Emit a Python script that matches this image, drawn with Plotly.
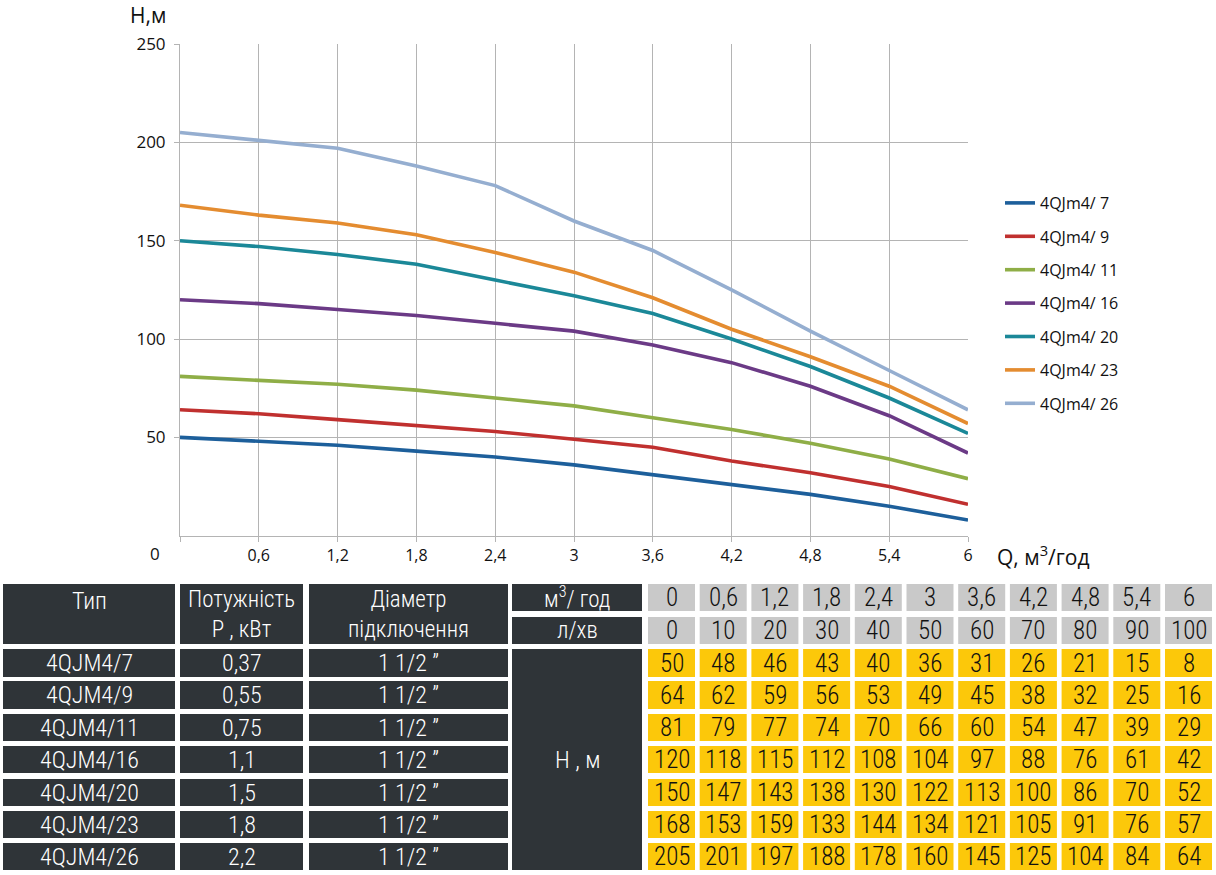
import plotly.graph_objects as go

W, H = 1216, 875

# ---------------- data ----------------
q_m3 = [0, 0.6, 1.2, 1.8, 2.4, 3, 3.6, 4.2, 4.8, 5.4, 6]
q_labels = ["0", "0,6", "1,2", "1,8", "2,4", "3", "3,6", "4,2", "4,8", "5,4", "6"]
q_lmin = [0, 10, 20, 30, 40, 50, 60, 70, 80, 90, 100]

types = ["4QJM4/7", "4QJM4/9", "4QJM4/11", "4QJM4/16", "4QJM4/20", "4QJM4/23", "4QJM4/26"]
legend_names = ["4QJm4/ 7", "4QJm4/ 9", "4QJm4/ 11", "4QJm4/ 16", "4QJm4/ 20", "4QJm4/ 23", "4QJm4/ 26"]
powers = ["0,37", "0,55", "0,75", "1,1", "1,5", "1,8", "2,2"]
diameters = ["1 1/2 \u201d"] * 7

h7 = [50, 48, 46, 43, 40, 36, 31, 26, 21, 15, 8]
h9 = [64, 62, 59, 56, 53, 49, 45, 38, 32, 25, 16]
h11 = [81, 79, 77, 74, 70, 66, 60, 54, 47, 39, 29]
h16 = [120, 118, 115, 112, 108, 104, 97, 88, 76, 61, 42]
h20 = [150, 147, 143, 138, 130, 122, 113, 100, 86, 70, 52]
h23_table = [168, 153, 159, 133, 144, 134, 121, 105, 91, 76, 57]   # as printed in table
h23_curve = [168, 163, 159, 153, 144, 134, 121, 105, 91, 76, 57]   # as drawn on chart
h26 = [205, 201, 197, 188, 178, 160, 145, 125, 104, 84, 64]

table_rows = [h7, h9, h11, h16, h20, h23_table, h26]
curve_rows = [h7, h9, h11, h16, h20, h23_curve, h26]
colors = ["#1d5f9b", "#c0302f", "#8fae47", "#6b3a86", "#1b8898", "#e48c30", "#95aed0"]

y_ticks = [50, 100, 150, 200, 250]

# ---------------- helpers ----------------
def px(x):
    return x / W

def py(y):
    return 1 - y / H

CHART_FONT = "'Open Sans', sans-serif"
TABLE_FONT = "'Roboto Condensed', 'Liberation Sans Narrow', 'DejaVu Sans Condensed', sans-serif"

def narrow(t):
    return '<span style="font-stretch:condensed">' + t + '</span>'

fig = go.Figure()
for name, vals, col in zip(legend_names, curve_rows, colors):
    fig.add_trace(go.Scatter(
        x=q_m3, y=vals, mode="lines", name=name, legendgroup=name,
        line=dict(color=col, width=3.6), hoverinfo="x+y+name",
    ))

shapes = []
annotations = []

DARK = "#2f3438"
GRAY = "#c9c9c9"
YELLOW = "#fcc80a"

def cell(x0, x1, y0, y1, fill, text, color, size=24):
    shapes.append(dict(type="rect", xref="paper", yref="paper",
                       x0=px(x0), x1=px(x1), y0=py(y1), y1=py(y0),
                       fillcolor=fill, line=dict(width=0), layer="above"))
    if text is not None:
        annotations.append(dict(xref="paper", yref="paper",
                                x=px((x0 + x1) / 2), y=py((y0 + y1) / 2),
                                text=narrow(text), showarrow=False,
                                font=dict(family=TABLE_FONT, size=size, color=color, weight=300),
                                xanchor="center", yanchor="middle"))

# column x-ranges
c_type = (3, 175)
c_pow = (180, 303)
c_dia = (309, 508)
c_unit = (512, 642)
grid_x0 = 648
pitch = 51.7
gw = 47

hdr_top, hdr_bot = 584, 644
sub1 = (584, 611)
sub2 = (617, 644)
rows_y = [(649, 677), (681, 709), (714, 741), (746, 773), (779, 806), (811, 838), (843, 870)]

# headers
cell(*c_type, hdr_top, hdr_bot, DARK, None, "white")
annotations.append(dict(xref="paper", yref="paper", x=px(sum(c_type) / 2), y=py(601),
                        text=narrow("Тип"), showarrow=False, xanchor="center", yanchor="middle",
                        font=dict(family=TABLE_FONT, size=24, color="white", weight=300)))
cell(*c_pow, hdr_top, hdr_bot, DARK, "Потужність<br>Р , кВт", "white", 23)
cell(*c_dia, hdr_top, hdr_bot, DARK, "Діаметр<br>підключення", "white", 23)
cell(*c_unit, *sub1, DARK, "м<sup>3</sup>/ год", "white", 23)
cell(*c_unit, *sub2, DARK, "л/хв", "white", 23)
cell(*c_unit, rows_y[0][0], rows_y[-1][1], DARK, "Н , м", "white", 24)

for j in range(len(q_m3)):
    gx0 = grid_x0 + j * pitch
    cell(gx0, gx0 + gw, *sub1, GRAY, q_labels[j], "#111111", 25)
    cell(gx0, gx0 + gw, *sub2, GRAY, str(q_lmin[j]), "#111111", 25)

for i, (t, p, d, vals) in enumerate(zip(types, powers, diameters, table_rows)):
    y0, y1 = rows_y[i]
    cell(*c_type, y0, y1, DARK, t, "white", 24)
    cell(*c_pow, y0, y1, DARK, p, "white", 24)
    cell(*c_dia, y0, y1, DARK, d, "white", 24)
    for j, v in enumerate(vals):
        gx0 = grid_x0 + j * pitch
        cell(gx0, gx0 + gw, y0, y1, YELLOW, str(v), "#111111", 25)

# axis titles and the detached zero label
annotations.append(dict(xref="paper", yref="paper", x=px(148), y=py(15), text="H,м",
                        showarrow=False, xanchor="center", yanchor="middle",
                        font=dict(family=CHART_FONT, size=21, color="#111111")))
annotations.append(dict(xref="paper", yref="paper", x=px(1043), y=py(555),
                        text="Q, м<sup>3</sup>/год", showarrow=False,
                        xanchor="center", yanchor="middle",
                        font=dict(family=CHART_FONT, size=21, color="#111111")))
annotations.append(dict(xref="paper", yref="paper", x=px(155), y=py(553), text="0",
                        showarrow=False, xanchor="center", yanchor="middle",
                        font=dict(family=CHART_FONT, size=17, color="#111111")))

fig.update_layout(
    width=W, height=H,
    margin=dict(l=0, r=0, t=0, b=0, autoexpand=False),
    paper_bgcolor="white", plot_bgcolor="white",
    showlegend=True,
    legend=dict(x=px(1000), y=py(186), xanchor="left", yanchor="top",
                font=dict(family=CHART_FONT, size=16, color="#111111"),
                tracegroupgap=9.6, bgcolor="rgba(0,0,0,0)"),
    xaxis=dict(domain=[px(180), px(968)], range=[0, 6], automargin=False,
               tickvals=q_m3, ticktext=[""] + q_labels[1:],
               showgrid=True, gridcolor="#b4b4b4", gridwidth=1,
               showline=True, linecolor="#b4b4b4", linewidth=1,
               ticks="outside", ticklen=5, tickcolor="#b4b4b4",
               tickfont=dict(family=CHART_FONT, size=16, color="#111111"),
               zeroline=False, fixedrange=True),
    yaxis=dict(domain=[py(535.7), py(44)], range=[0, 250], automargin=False,
               tickvals=y_ticks, ticktext=[str(v) for v in y_ticks],
               showgrid=True, gridcolor="#b4b4b4", gridwidth=1,
               showline=True, linecolor="#b4b4b4", linewidth=1,
               ticks="outside", ticklen=5, tickcolor="#b4b4b4",
               tickfont=dict(family=CHART_FONT, size=17, color="#111111"),
               ticklabelstandoff=5,
               zeroline=False, fixedrange=True),
    shapes=shapes,
    annotations=annotations,
)

fig.write_html("out.html")
